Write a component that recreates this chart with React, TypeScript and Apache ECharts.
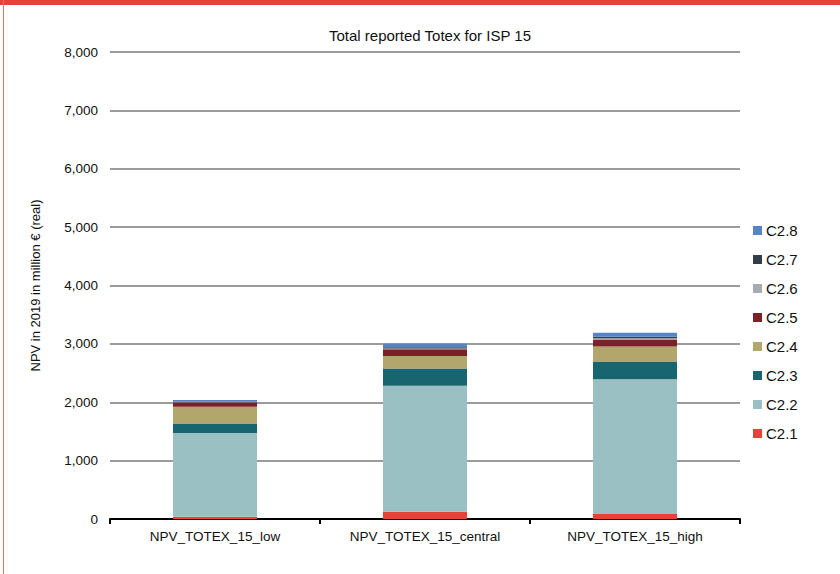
import React, { useEffect, useRef } from "react";
import * as echarts from "echarts";

const categories = ["NPV_TOTEX_15_low", "NPV_TOTEX_15_central", "NPV_TOTEX_15_high"];
const seriesNames = ["C2.1", "C2.2", "C2.3", "C2.4", "C2.5", "C2.6", "C2.7", "C2.8"];
const c21 = [40, 125, 85];
const c22 = [1435, 2158, 2310];
const c23 = [160, 297, 305];
const c24 = [290, 211, 257];
const c25 = [70, 115, 120];
const c26 = [5, 15, 20];
const c27 = [10, 20, 25];
const c28 = [30, 63, 68];
const seriesValues = [c21, c22, c23, c24, c25, c26, c27, c28];
const seriesColors = ["#e8413a", "#9bc0c4", "#17656e", "#b3a66c", "#7c2128", "#a6acaf", "#333f48", "#5585c5"];
const yTicks = { min: 0, max: 8000, interval: 1000 };

export default function App() {
  const ref = useRef<HTMLDivElement>(null);

  useEffect(() => {
    document.body.style.margin = "0";
    if (!ref.current) return;
    const chart = echarts.init(ref.current, undefined, { renderer: "svg" });
    const font = "Liberation Sans, Arial, sans-serif";
    chart.setOption({
      animation: false,
      backgroundColor: "#ffffff",
      textStyle: { fontFamily: font },
      title: {
        text: "Total reported Totex for ISP 15",
        left: 425,
        top: 23,
        textAlign: "center",
        textStyle: { fontSize: 15, fontWeight: "normal", color: "#111", fontFamily: font },
      },
      graphic: [
        { type: "rect", shape: { x: 0, y: 0, width: 840, height: 5 }, style: { fill: "#e8413a" }, silent: true },
        { type: "rect", shape: { x: 3, y: 0, width: 1, height: 574 }, style: { fill: "#ec6a62" }, silent: true },
      ],
      legend: {
        orient: "vertical",
        left: 748,
        top: 218,
        itemWidth: 9,
        itemHeight: 9,
        itemGap: 14,
        icon: "rect",
        data: [...seriesNames].reverse(),
        textStyle: { fontSize: 15, color: "#111", fontFamily: font, padding: [0, 0, 0, -1] },
      },
      grid: { left: 110, right: 100, top: 52, bottom: 55, containLabel: false },
      xAxis: {
        type: "category",
        data: categories,
        axisLine: { lineStyle: { color: "#000", width: 2 } },
        axisTick: { show: true, length: 5, lineStyle: { color: "#000", width: 2 } },
        axisLabel: { fontSize: 13.5, color: "#111", margin: 10, fontFamily: font },
      },
      yAxis: {
        type: "value",
        min: yTicks.min,
        max: yTicks.max,
        interval: yTicks.interval,
        name: "NPV in 2019 in million € (real)",
        nameLocation: "middle",
        nameGap: 68,
        nameRotate: 90,
        nameTextStyle: { fontSize: 13, color: "#111", fontFamily: font },
        axisLine: { show: false },
        axisTick: { show: false },
        splitLine: { lineStyle: { color: "#9b9b9b", width: 2 } },
        axisLabel: {
          fontSize: 13.5,
          color: "#111",
          margin: 12,
          fontFamily: font,
          formatter: (v: number) => v.toLocaleString("en-US"),
        },
      },
      series: seriesNames.map((name, i) => ({
        name,
        type: "bar",
        stack: "total",
        barWidth: "40%",
        data: seriesValues[i],
        itemStyle: { color: seriesColors[i] },
      })),
    });
    return () => chart.dispose();
  }, []);

  return <div ref={ref} style={{ width: 840, height: 574, position: "absolute", left: 0, top: 0 }} />;
}
